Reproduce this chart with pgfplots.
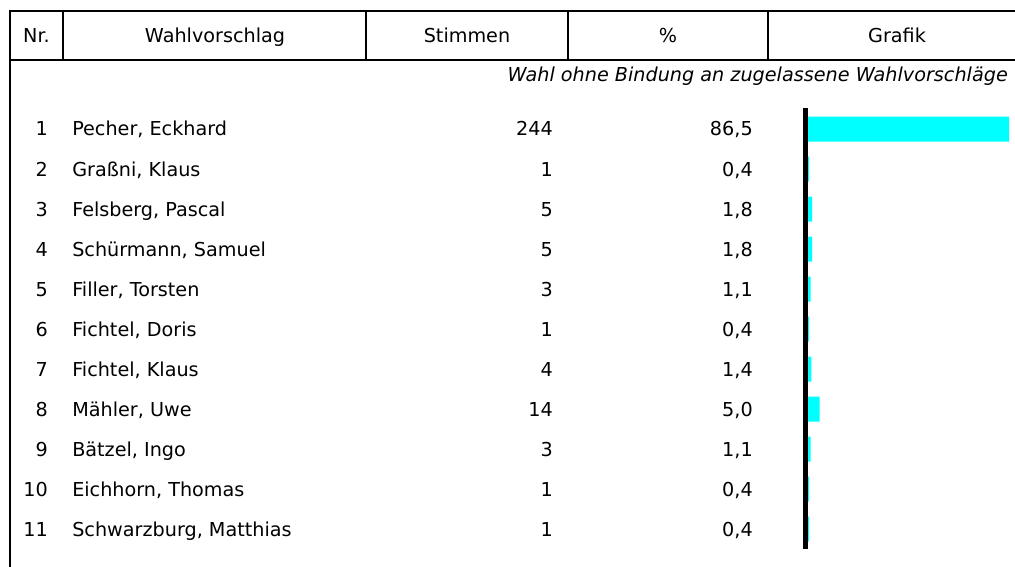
\documentclass[border=0pt]{standalone}
\usepackage{pgfplots}
\pgfplotsset{compat=1.18}
\usepackage{fontspec}
\setmainfont{DejaVu Sans}
\definecolor{barcyan}{RGB}{0,255,255}
\pgfplotstableread{
nr votes pct
1 244 86.5
2 1 0.4
3 5 1.8
4 5 1.8
5 3 1.1
6 1 0.4
7 4 1.4
8 14 5.0
9 3 1.1
10 1 0.4
11 1 0.4
}\datatable
\begin{document}
\begin{tikzpicture}
\begin{scope}[x=0.75pt,y=-0.75pt]
\useasboundingbox (0,0) rectangle (1015,567);
\fontsize{14.4}{17}\selectfont
% header box
\draw[line width=1.5pt] (10,567) -- (10,11) -- (1015,11);
\draw[line width=1.5pt] (10,60) -- (1015,60);
\foreach \x in {63,366,568,768} \draw[line width=1.5pt] (\x,11)--(\x,60);
\node[anchor=base,inner sep=0] at (36.5,43) {Nr.};
\node[anchor=base,inner sep=0] at (215,43) {Wahlvorschlag};
\node[anchor=base,inner sep=0] at (467,43) {Stimmen};
\node[anchor=base,inner sep=0] at (668,43) {\%};
\node[anchor=base,inner sep=0] at (897,43) {Grafik};
\node[anchor=base east,inner sep=0] at (1008,82) {\itshape Wahl ohne Bindung an zugelassene Wahlvorschläge};
% rows
\foreach \i/\name/\v/\p in {1/{Pecher, Eckhard}/244/{86,5},2/{Graßni, Klaus}/1/{0,4},3/{Felsberg, Pascal}/5/{1,8},4/{Schürmann, Samuel}/5/{1,8},5/{Filler, Torsten}/3/{1,1},6/{Fichtel, Doris}/1/{0,4},7/{Fichtel, Klaus}/4/{1,4},8/{Mähler, Uwe}/14/{5,0},9/{Bätzel, Ingo}/3/{1,1},10/{Eichhorn, Thomas}/1/{0,4},11/{Schwarzburg, Matthias}/1/{0,4}}{
  \pgfmathsetmacro{\yy}{136+40*(\i-1)}
  \node[anchor=base east,inner sep=0] at (48,\yy) {\i};
  \node[anchor=base west,inner sep=0] at (72,\yy) {\name};
  \node[anchor=base east,inner sep=0] at (553,\yy) {\v};
  \node[anchor=base east,inner sep=0] at (753,\yy) {\p};
}
\draw[line width=3.75pt] (805.5,108) -- (805.5,549);
\end{scope}
% bars
\begin{axis}[at={(606pt,-81.75pt)},anchor=north west,
  scale only axis,width=150.75pt,height=330pt,
  xmin=0,xmax=86.5,ymin=0.5,ymax=11.5,y dir=reverse,
  hide axis,clip=false,
  xbar,bar width=18.75pt,bar shift=0pt]
\addplot[fill=barcyan,draw=none] table[x=pct,y=nr]{\datatable};
\end{axis}
\end{tikzpicture}
\end{document}
